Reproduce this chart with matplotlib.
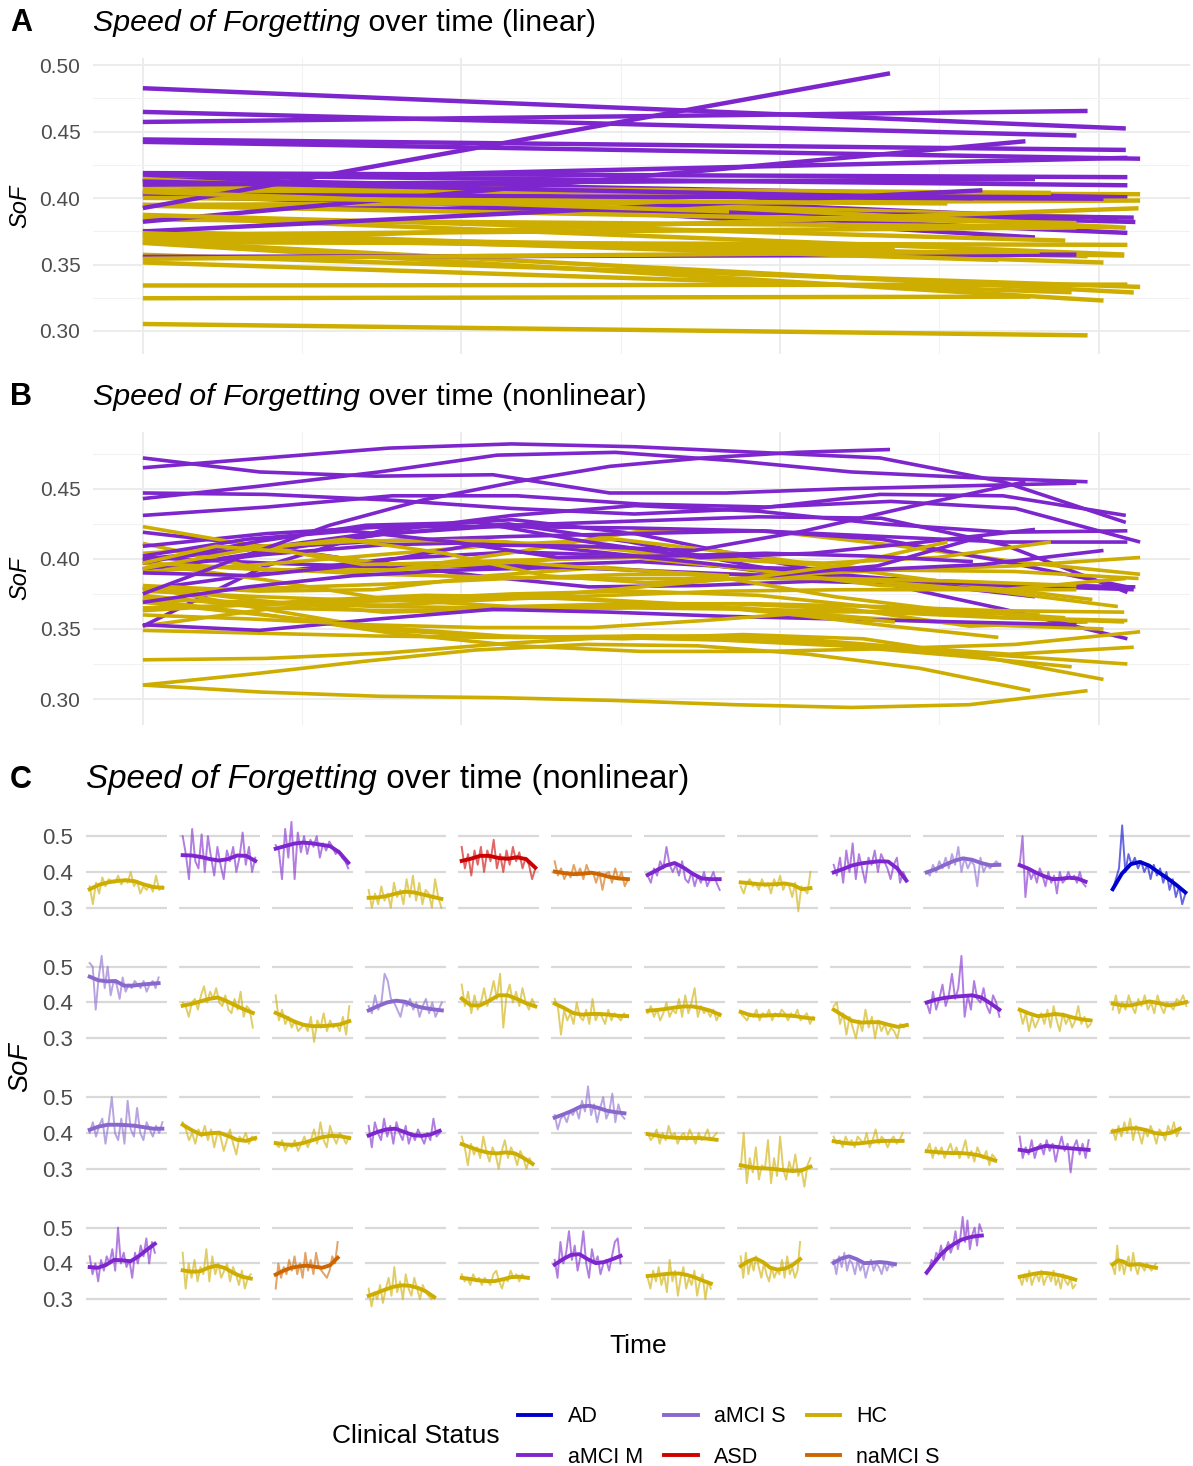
import numpy as np
import matplotlib
matplotlib.use("Agg")
import matplotlib.pyplot as plt
from matplotlib.lines import Line2D

plt.rcParams['font.family'] = ['Liberation Sans', 'DejaVu Sans']

# ---------------- data: 48 subjects, four rows of twelve ----------------
status_r1 = ["HC", "aMCI M", "aMCI M", "HC", "ASD", "naMCI S", "aMCI M", "HC", "aMCI M", "aMCI S", "aMCI M", "AD"]
status_r2 = ["aMCI S", "HC", "HC", "aMCI S", "HC", "HC", "HC", "HC", "HC", "aMCI M", "HC", "HC"]
status_r3 = ["aMCI S", "HC", "HC", "aMCI M", "HC", "aMCI S", "HC", "HC", "HC", "HC", "aMCI M", "HC"]
status_r4 = ["aMCI M", "HC", "naMCI S", "HC", "HC", "aMCI M", "HC", "HC", "aMCI S", "aMCI M", "HC", "HC"]

# length of follow-up per subject
tend_r1 = [6.18, 6.17, 6.17, 6.18, 6.26, 6.23, 6.12, 5.93, 6.18, 6.18, 5.60, 6.18]
tend_r2 = [5.86, 5.96, 6.26, 6.22, 6.26, 6.16, 6.12, 6.16, 6.22, 6.18, 6.03, 6.26]
tend_r3 = [6.18, 6.17, 6.25, 6.03, 6.03, 5.93, 5.86, 5.93, 5.86, 5.83, 5.86, 5.70]
tend_r4 = [5.54, 5.79, 5.27, 5.57, 5.63, 5.60, 5.37, 5.05, 5.21, 4.69, 4.72, 3.68]

# observed SoF per session (evenly spaced over follow-up)
raw_r1 = [
    [0.36, 0.31, 0.37, 0.34, 0.385, 0.36, 0.38, 0.375, 0.37, 0.39, 0.365, 0.38, 0.37, 0.40, 0.36, 0.375, 0.34, 0.36, 0.35, 0.365, 0.345, 0.39, 0.35, 0.36],
    [0.50, 0.45, 0.38, 0.52, 0.43, 0.41, 0.505, 0.40, 0.50, 0.44, 0.39, 0.47, 0.42, 0.38, 0.46, 0.43, 0.47, 0.40, 0.44, 0.51, 0.42, 0.47, 0.40, 0.44],
    [0.475, 0.46, 0.38, 0.52, 0.44, 0.54, 0.38, 0.51, 0.455, 0.50, 0.45, 0.49, 0.47, 0.50, 0.44, 0.48, 0.46, 0.485, 0.47, 0.45, 0.46, 0.44, 0.43, 0.41],
    [0.35, 0.30, 0.34, 0.31, 0.36, 0.32, 0.34, 0.30, 0.37, 0.33, 0.35, 0.31, 0.38, 0.33, 0.39, 0.32, 0.37, 0.31, 0.35, 0.34, 0.30, 0.38, 0.33, 0.30],
    [0.47, 0.41, 0.45, 0.39, 0.46, 0.42, 0.47, 0.40, 0.46, 0.43, 0.49, 0.41, 0.45, 0.40, 0.46, 0.42, 0.47, 0.43, 0.455, 0.41, 0.44, 0.42, 0.38, 0.41],
    [0.43, 0.39, 0.41, 0.38, 0.40, 0.385, 0.42, 0.39, 0.41, 0.38, 0.42, 0.395, 0.40, 0.37, 0.40, 0.35, 0.395, 0.40, 0.37, 0.41, 0.38, 0.40, 0.36, 0.38],
    [0.39, 0.37, 0.41, 0.39, 0.43, 0.41, 0.47, 0.42, 0.40, 0.42, 0.39, 0.43, 0.38, 0.37, 0.40, 0.36, 0.39, 0.37, 0.40, 0.36, 0.38, 0.40, 0.37, 0.35],
    [0.36, 0.34, 0.37, 0.38, 0.36, 0.37, 0.35, 0.38, 0.36, 0.37, 0.34, 0.38, 0.36, 0.39, 0.35, 0.37, 0.36, 0.33, 0.37, 0.29, 0.36, 0.35, 0.34, 0.40],
    [0.42, 0.39, 0.44, 0.37, 0.46, 0.40, 0.48, 0.38, 0.45, 0.41, 0.37, 0.44, 0.42, 0.46, 0.40, 0.45, 0.43, 0.41, 0.38, 0.42, 0.44, 0.37, 0.40, 0.38],
    [0.40, 0.39, 0.42, 0.40, 0.43, 0.41, 0.44, 0.41, 0.45, 0.42, 0.47, 0.40, 0.44, 0.41, 0.43, 0.42, 0.36, 0.44, 0.40, 0.42, 0.41, 0.42, 0.43, 0.42],
    [0.42, 0.50, 0.33, 0.41, 0.38, 0.40, 0.37, 0.41, 0.39, 0.36, 0.40, 0.37, 0.39, 0.34, 0.40, 0.37, 0.38, 0.40, 0.38, 0.39, 0.37, 0.40, 0.37, 0.36],
    [0.35, 0.38, 0.41, 0.53, 0.40, 0.45, 0.42, 0.44, 0.41, 0.43, 0.40, 0.42, 0.38, 0.42, 0.39, 0.41, 0.37, 0.40, 0.35, 0.38, 0.33, 0.36, 0.31, 0.34],
]
raw_r2 = [
    [0.51, 0.50, 0.38, 0.47, 0.53, 0.44, 0.50, 0.42, 0.46, 0.45, 0.41, 0.47, 0.43, 0.45, 0.44, 0.46, 0.45, 0.44, 0.46, 0.43, 0.45, 0.46, 0.44, 0.47],
    [0.40, 0.39, 0.36, 0.40, 0.41, 0.38, 0.42, 0.445, 0.40, 0.43, 0.41, 0.44, 0.40, 0.39, 0.42, 0.38, 0.37, 0.41, 0.38, 0.43, 0.36, 0.39, 0.38, 0.33],
    [0.42, 0.35, 0.38, 0.34, 0.36, 0.33, 0.35, 0.32, 0.33, 0.34, 0.32, 0.36, 0.29, 0.35, 0.33, 0.37, 0.32, 0.35, 0.33, 0.34, 0.32, 0.36, 0.31, 0.39],
    [0.39, 0.37, 0.42, 0.38, 0.40, 0.48, 0.46, 0.41, 0.40, 0.38, 0.36, 0.40, 0.39, 0.41, 0.38, 0.40, 0.36, 0.39, 0.41, 0.37, 0.40, 0.36, 0.38, 0.40],
    [0.45, 0.39, 0.43, 0.37, 0.42, 0.38, 0.40, 0.44, 0.39, 0.42, 0.46, 0.41, 0.48, 0.33, 0.42, 0.45, 0.40, 0.43, 0.39, 0.44, 0.40, 0.38, 0.41, 0.39],
    [0.41, 0.39, 0.31, 0.38, 0.35, 0.37, 0.34, 0.40, 0.36, 0.35, 0.38, 0.34, 0.41, 0.35, 0.37, 0.36, 0.34, 0.38, 0.35, 0.37, 0.36, 0.35, 0.37, 0.36],
    [0.37, 0.39, 0.36, 0.38, 0.35, 0.37, 0.40, 0.36, 0.38, 0.37, 0.41, 0.36, 0.42, 0.37, 0.40, 0.44, 0.36, 0.39, 0.37, 0.38, 0.36, 0.38, 0.35, 0.37],
    [0.37, 0.36, 0.35, 0.37, 0.36, 0.38, 0.35, 0.37, 0.36, 0.38, 0.35, 0.37, 0.36, 0.38, 0.37, 0.35, 0.37, 0.36, 0.38, 0.35, 0.36, 0.37, 0.34, 0.36],
    [0.39, 0.40, 0.34, 0.37, 0.31, 0.36, 0.33, 0.30, 0.35, 0.32, 0.38, 0.33, 0.36, 0.30, 0.35, 0.32, 0.34, 0.31, 0.33, 0.32, 0.30, 0.34, 0.33, 0.34],
    [0.40, 0.37, 0.43, 0.38, 0.41, 0.45, 0.39, 0.42, 0.48, 0.41, 0.44, 0.53, 0.36, 0.42, 0.38, 0.46, 0.41, 0.40, 0.44, 0.39, 0.37, 0.42, 0.40, 0.36],
    [0.38, 0.34, 0.37, 0.32, 0.36, 0.33, 0.35, 0.37, 0.34, 0.38, 0.33, 0.39, 0.35, 0.32, 0.37, 0.34, 0.36, 0.33, 0.35, 0.39, 0.34, 0.36, 0.33, 0.34],
    [0.38, 0.42, 0.37, 0.40, 0.38, 0.42, 0.39, 0.37, 0.41, 0.39, 0.42, 0.38, 0.40, 0.37, 0.42, 0.39, 0.37, 0.40, 0.39, 0.38, 0.41, 0.40, 0.42, 0.39],
]
raw_r3 = [
    [0.40, 0.43, 0.39, 0.42, 0.44, 0.37, 0.43, 0.50, 0.40, 0.38, 0.44, 0.37, 0.49, 0.41, 0.39, 0.47, 0.40, 0.38, 0.43, 0.41, 0.39, 0.42, 0.40, 0.43],
    [0.43, 0.41, 0.38, 0.40, 0.37, 0.41, 0.39, 0.42, 0.38, 0.41, 0.36, 0.40, 0.39, 0.35, 0.38, 0.41, 0.37, 0.34, 0.39, 0.38, 0.40, 0.37, 0.39, 0.38],
    [0.37, 0.36, 0.38, 0.35, 0.37, 0.36, 0.38, 0.35, 0.37, 0.39, 0.36, 0.38, 0.41, 0.37, 0.43, 0.38, 0.36, 0.42, 0.39, 0.37, 0.40, 0.39, 0.37, 0.39],
    [0.42, 0.36, 0.43, 0.40, 0.38, 0.44, 0.39, 0.42, 0.37, 0.43, 0.40, 0.38, 0.42, 0.37, 0.40, 0.38, 0.41, 0.39, 0.37, 0.40, 0.38, 0.44, 0.39, 0.40],
    [0.39, 0.36, 0.31, 0.37, 0.34, 0.36, 0.33, 0.39, 0.35, 0.32, 0.36, 0.34, 0.30, 0.35, 0.38, 0.33, 0.36, 0.34, 0.31, 0.35, 0.33, 0.30, 0.33, 0.31],
    [0.45, 0.41, 0.44, 0.45, 0.43, 0.46, 0.45, 0.47, 0.44, 0.49, 0.46, 0.53, 0.45, 0.48, 0.43, 0.47, 0.50, 0.44, 0.46, 0.51, 0.43, 0.48, 0.45, 0.44],
    [0.40, 0.38, 0.39, 0.41, 0.37, 0.40, 0.38, 0.42, 0.39, 0.40, 0.37, 0.39, 0.40, 0.38, 0.41, 0.39, 0.37, 0.40, 0.38, 0.39, 0.41, 0.38, 0.39, 0.40],
    [0.30, 0.40, 0.26, 0.33, 0.29, 0.36, 0.27, 0.31, 0.30, 0.38, 0.26, 0.33, 0.28, 0.39, 0.30, 0.27, 0.32, 0.29, 0.34, 0.28, 0.30, 0.25, 0.31, 0.33],
    [0.39, 0.37, 0.38, 0.36, 0.39, 0.37, 0.38, 0.36, 0.39, 0.38, 0.37, 0.40, 0.36, 0.38, 0.41, 0.37, 0.39, 0.38, 0.36, 0.38, 0.39, 0.37, 0.38, 0.40],
    [0.35, 0.37, 0.33, 0.36, 0.34, 0.36, 0.33, 0.35, 0.37, 0.34, 0.36, 0.33, 0.35, 0.38, 0.33, 0.35, 0.32, 0.36, 0.34, 0.33, 0.35, 0.31, 0.34, 0.33],
    [0.39, 0.33, 0.36, 0.34, 0.38, 0.33, 0.36, 0.37, 0.34, 0.38, 0.35, 0.37, 0.32, 0.36, 0.39, 0.35, 0.37, 0.29, 0.36, 0.38, 0.34, 0.37, 0.33, 0.38],
    [0.41, 0.38, 0.42, 0.39, 0.43, 0.40, 0.44, 0.38, 0.42, 0.40, 0.37, 0.41, 0.39, 0.42, 0.40, 0.37, 0.41, 0.40, 0.38, 0.42, 0.40, 0.43, 0.39, 0.41],
]
raw_r4 = [
    [0.42, 0.37, 0.40, 0.35, 0.41, 0.38, 0.42, 0.40, 0.44, 0.38, 0.50, 0.40, 0.43, 0.39, 0.41, 0.36, 0.43, 0.40, 0.45, 0.42, 0.47, 0.40, 0.46, 0.43],
    [0.43, 0.33, 0.40, 0.36, 0.41, 0.35, 0.39, 0.37, 0.44, 0.35, 0.42, 0.37, 0.40, 0.36, 0.38, 0.40, 0.35, 0.39, 0.37, 0.34, 0.38, 0.33, 0.36, 0.37],
    [0.33, 0.40, 0.36, 0.39, 0.37, 0.41, 0.38, 0.42, 0.37, 0.40, 0.36, 0.43, 0.38, 0.41, 0.37, 0.43, 0.39, 0.38, 0.37, 0.36, 0.38, 0.42, 0.40, 0.46],
    [0.33, 0.28, 0.32, 0.30, 0.34, 0.29, 0.33, 0.36, 0.31, 0.39, 0.32, 0.35, 0.30, 0.37, 0.33, 0.31, 0.36, 0.33, 0.30, 0.34, 0.32, 0.31, 0.30, 0.31],
    [0.37, 0.35, 0.36, 0.34, 0.37, 0.35, 0.36, 0.34, 0.36, 0.35, 0.34, 0.37, 0.38, 0.35, 0.33, 0.36, 0.35, 0.38, 0.36, 0.37, 0.35, 0.37, 0.36, 0.36],
    [0.41, 0.36, 0.46, 0.40, 0.43, 0.49, 0.41, 0.45, 0.38, 0.42, 0.49, 0.40, 0.36, 0.44, 0.40, 0.42, 0.37, 0.40, 0.41, 0.38, 0.42, 0.46, 0.47, 0.40],
    [0.36, 0.33, 0.38, 0.35, 0.39, 0.34, 0.37, 0.32, 0.41, 0.35, 0.38, 0.31, 0.36, 0.39, 0.33, 0.36, 0.34, 0.38, 0.31, 0.35, 0.37, 0.30, 0.35, 0.33],
    [0.42, 0.36, 0.43, 0.37, 0.41, 0.38, 0.42, 0.39, 0.36, 0.40, 0.37, 0.35, 0.39, 0.36, 0.38, 0.37, 0.41, 0.36, 0.42, 0.37, 0.39, 0.36, 0.38, 0.46],
    [0.41, 0.37, 0.42, 0.39, 0.43, 0.38, 0.41, 0.40, 0.37, 0.41, 0.38, 0.40, 0.36, 0.39, 0.41, 0.38, 0.40, 0.39, 0.37, 0.40, 0.38, 0.40, 0.39, 0.40],
    [0.37, 0.38, 0.41, 0.40, 0.43, 0.42, 0.45, 0.41, 0.44, 0.46, 0.43, 0.45, 0.49, 0.44, 0.47, 0.53, 0.46, 0.52, 0.44, 0.48, 0.50, 0.45, 0.51, 0.49],
    [0.36, 0.34, 0.37, 0.35, 0.38, 0.34, 0.36, 0.37, 0.35, 0.38, 0.34, 0.36, 0.37, 0.35, 0.38, 0.34, 0.36, 0.33, 0.37, 0.35, 0.34, 0.36, 0.33, 0.34],
    [0.39, 0.37, 0.45, 0.38, 0.41, 0.37, 0.40, 0.42, 0.38, 0.43, 0.39, 0.37, 0.40, 0.39, 0.38, 0.40, 0.39, 0.38, 0.39, 0.40],
]

# fitted nonlinear trend per subject, nine equally spaced points over follow-up
smooth_r1 = [
    [0.352, 0.364, 0.371, 0.375, 0.377, 0.374, 0.365, 0.358, 0.356],
    [0.447, 0.446, 0.442, 0.436, 0.432, 0.436, 0.446, 0.445, 0.431],
    [0.465, 0.472, 0.479, 0.482, 0.480, 0.476, 0.472, 0.455, 0.426],
    [0.328, 0.329, 0.333, 0.340, 0.345, 0.343, 0.337, 0.331, 0.325],
    [0.431, 0.437, 0.445, 0.445, 0.439, 0.437, 0.441, 0.436, 0.412],
    [0.401, 0.397, 0.394, 0.395, 0.398, 0.393, 0.386, 0.382, 0.380],
    [0.392, 0.405, 0.418, 0.425, 0.412, 0.395, 0.382, 0.380, 0.380],
    [0.371, 0.369, 0.366, 0.365, 0.366, 0.368, 0.364, 0.352, 0.355],
    [0.399, 0.408, 0.418, 0.424, 0.427, 0.430, 0.429, 0.410, 0.376],
    [0.399, 0.408, 0.420, 0.431, 0.438, 0.434, 0.425, 0.419, 0.420],
    [0.419, 0.410, 0.398, 0.388, 0.380, 0.381, 0.384, 0.382, 0.373],
    [0.352, 0.395, 0.422, 0.428, 0.418, 0.400, 0.383, 0.364, 0.343],
]
smooth_r2 = [
    [0.472, 0.462, 0.459, 0.460, 0.447, 0.447, 0.450, 0.452, 0.454],
    [0.391, 0.396, 0.403, 0.410, 0.414, 0.404, 0.392, 0.381, 0.371],
    [0.371, 0.360, 0.347, 0.338, 0.334, 0.334, 0.336, 0.339, 0.348],
    [0.378, 0.390, 0.400, 0.405, 0.402, 0.391, 0.385, 0.381, 0.378],
    [0.411, 0.392, 0.392, 0.405, 0.420, 0.420, 0.410, 0.398, 0.389],
    [0.397, 0.385, 0.371, 0.366, 0.368, 0.368, 0.366, 0.363, 0.362],
    [0.377, 0.379, 0.382, 0.386, 0.389, 0.389, 0.384, 0.377, 0.366],
    [0.374, 0.365, 0.363, 0.364, 0.365, 0.364, 0.362, 0.358, 0.355],
    [0.380, 0.364, 0.349, 0.344, 0.345, 0.345, 0.338, 0.332, 0.337],
    [0.400, 0.408, 0.413, 0.416, 0.418, 0.420, 0.414, 0.398, 0.380],
    [0.380, 0.370, 0.362, 0.364, 0.368, 0.365, 0.358, 0.353, 0.350],
    [0.397, 0.392, 0.392, 0.398, 0.403, 0.398, 0.392, 0.395, 0.401],
]
smooth_r3 = [
    [0.409, 0.418, 0.423, 0.423, 0.422, 0.420, 0.416, 0.412, 0.412],
    [0.423, 0.408, 0.396, 0.399, 0.401, 0.392, 0.381, 0.378, 0.386],
    [0.372, 0.368, 0.367, 0.372, 0.380, 0.388, 0.392, 0.391, 0.386],
    [0.393, 0.403, 0.410, 0.412, 0.403, 0.394, 0.392, 0.396, 0.406],
    [0.369, 0.360, 0.351, 0.345, 0.343, 0.346, 0.343, 0.330, 0.314],
    [0.443, 0.452, 0.462, 0.474, 0.476, 0.470, 0.462, 0.458, 0.455],
    [0.397, 0.393, 0.389, 0.387, 0.386, 0.386, 0.386, 0.384, 0.381],
    [0.310, 0.305, 0.302, 0.301, 0.299, 0.296, 0.294, 0.296, 0.306],
    [0.377, 0.373, 0.370, 0.371, 0.374, 0.377, 0.378, 0.378, 0.378],
    [0.349, 0.347, 0.345, 0.344, 0.344, 0.342, 0.338, 0.331, 0.323],
    [0.353, 0.349, 0.357, 0.364, 0.362, 0.359, 0.357, 0.355, 0.353],
    [0.404, 0.409, 0.413, 0.413, 0.408, 0.400, 0.397, 0.401, 0.412],
]
smooth_r4 = [
    [0.390, 0.388, 0.396, 0.410, 0.409, 0.406, 0.420, 0.438, 0.455],
    [0.381, 0.377, 0.378, 0.388, 0.394, 0.387, 0.373, 0.363, 0.358],
    [0.369, 0.380, 0.388, 0.392, 0.394, 0.391, 0.388, 0.395, 0.416],
    [0.310, 0.318, 0.327, 0.335, 0.339, 0.338, 0.332, 0.322, 0.306],
    [0.360, 0.357, 0.353, 0.351, 0.351, 0.356, 0.362, 0.363, 0.360],
    [0.397, 0.412, 0.424, 0.426, 0.412, 0.401, 0.404, 0.412, 0.421],
    [0.365, 0.367, 0.370, 0.372, 0.372, 0.368, 0.361, 0.352, 0.344],
    [0.393, 0.406, 0.414, 0.404, 0.388, 0.383, 0.386, 0.396, 0.412],
    [0.402, 0.414, 0.420, 0.412, 0.401, 0.402, 0.404, 0.402, 0.398],
    [0.375, 0.400, 0.424, 0.442, 0.455, 0.466, 0.472, 0.476, 0.478],
    [0.363, 0.367, 0.371, 0.374, 0.373, 0.370, 0.366, 0.361, 0.355],
    [0.397, 0.409, 0.405, 0.396, 0.397, 0.398, 0.394, 0.391, 0.388],
]

legend_order = ["AD", "aMCI M", "aMCI S", "ASD", "HC", "naMCI S"]

# ---------------- styling ----------------
status_colors = {"AD": "#0000CD", "aMCI M": "#7D26CD", "aMCI S": "#8968CD",
                 "ASD": "#CD0000", "HC": "#CDAD00", "naMCI S": "#CD6600"}
group_colors = {"patient": "#7D26CD", "HC": "#CDAD00"}
tick_color = "#4D4D4D"

statuses = status_r1 + status_r2 + status_r3 + status_r4
tends = tend_r1 + tend_r2 + tend_r3 + tend_r4
raws = raw_r1 + raw_r2 + raw_r3 + raw_r4
smooths = smooth_r1 + smooth_r2 + smooth_r3 + smooth_r4

W, H = 1193, 1466
fig = plt.figure(figsize=(W / 100, H / 100), dpi=100)


def fig_rect(left, top, right, bottom):
    return [left / W, 1 - bottom / H, (right - left) / W, (bottom - top) / H]


t_max = max(tends)
xlim = (-0.05 * t_max, 1.05 * t_max)


def style_big(ax, ylim, yticks, yminor):
    ax.set_xlim(*xlim)
    ax.set_ylim(*ylim)
    for s in ax.spines.values():
        s.set_visible(False)
    ax.set_xticks([0, 2, 4, 6])
    ax.set_xticks([1, 3, 5], minor=True)
    ax.set_xticklabels([])
    ax.set_yticks(yticks)
    ax.set_yticks(yminor, minor=True)
    ax.set_yticklabels([f"{v:.2f}" for v in yticks])
    ax.tick_params(which="both", length=0, labelsize=15, labelcolor=tick_color, pad=9)
    ax.grid(which="major", color="#EBEBEB", linewidth=1.3)
    ax.grid(which="minor", color="#F2F2F2", linewidth=0.8)
    ax.set_axisbelow(True)


def colour_ab(st):
    return group_colors["HC"] if st == "HC" else group_colors["patient"]


# Panel A: linear trend per subject (least squares over the fitted trajectory)
axA = fig.add_axes(fig_rect(93, 58, 1190, 354))
style_big(axA, (0.2827, 0.5053), [0.30, 0.35, 0.40, 0.45, 0.50],
          [0.325, 0.375, 0.425, 0.475])
for st, te, sm in zip(statuses, tends, smooths):
    t = np.linspace(0, te, len(sm))
    slope, icpt = np.polyfit(t, sm, 1)
    ends = np.array([0.0, te])
    axA.plot(ends, icpt + slope * ends, color=colour_ab(st), lw=3.2,
             solid_capstyle="butt")

# Panel B: nonlinear trend per subject
axB = fig.add_axes(fig_rect(93, 432, 1190, 725))
style_big(axB, (0.2815, 0.4905), [0.30, 0.35, 0.40, 0.45],
          [0.325, 0.375, 0.425, 0.475])
for st, te, sm in zip(statuses, tends, smooths):
    t = np.linspace(0, te, len(sm))
    axB.plot(t, sm, color=colour_ab(st), lw=2.6, solid_capstyle="butt",
             solid_joinstyle="round")

for ax_ in (axA, axB):
    mid = (ax_.get_position().y0 + ax_.get_position().y1) / 2
    fig.text(20 / W, mid, "SoF", rotation=90, style="italic", fontsize=17,
             ha="center", va="center")

# Panel C: per-subject facets
ylimC = (0.227, 0.559)
for i, (st, te, rv, sm) in enumerate(zip(statuses, tends, raws, smooths)):
    r, c = divmod(i, 12)
    left = 86 + c * 93
    top = 815 + r * 130.5
    ax = fig.add_axes(fig_rect(left, top, left + 81, top + 119))
    ax.set_xlim(*xlim)
    ax.set_ylim(*ylimC)
    for s in ax.spines.values():
        s.set_visible(False)
    ax.set_xticks([])
    ax.set_yticks([0.3, 0.4, 0.5])
    ax.grid(axis="y", color="#D9D9D9", linewidth=1.6)
    ax.set_axisbelow(True)
    if c == 0:
        ax.set_yticklabels(["0.3", "0.4", "0.5"])
        ax.tick_params(axis="y", length=0, labelsize=16, labelcolor=tick_color, pad=9.5)
    else:
        ax.tick_params(axis="y", length=0, labelleft=False)
    col = status_colors[st]
    t_raw = np.linspace(0, te, len(rv))
    ax.plot(t_raw, rv, color=col, lw=1.4, alpha=0.6)
    t_sm = np.linspace(0, te, len(sm))
    ax.plot(t_sm, sm, color=col, lw=2.8, solid_joinstyle="round")

fig.text(20 / W, 1 - 1067 / H, "SoF", rotation=90, style="italic", fontsize=19.5,
         ha="center", va="center")
fig.text(638 / W, 1 - 1346 / H, "Time", fontsize=19, ha="center", va="center")

# Titles
titles = [(31, "A", "linear", 21.9, 93), (405, "B", "nonlinear", 21.9, 93),
          (788, "C", "nonlinear", 23.9, 86)]
parts = []
for base, letter, kind, size, x0 in titles:
    fig.text(10 / W, 1 - base / H, letter, fontsize=22, fontweight="bold",
             va="baseline", ha="left")
    t1 = fig.text(x0 / W, 1 - base / H, "Speed of Forgetting", fontsize=size,
                  style="italic", va="baseline", ha="left")
    parts.append((t1, base, kind, size))
fig.canvas.draw()
renderer = fig.canvas.get_renderer()
for t1, base, kind, size in parts:
    bb = t1.get_window_extent(renderer)
    fig.text(bb.x1 / W, 1 - base / H, f" over time ({kind})", fontsize=size,
             va="baseline", ha="left")

# Legend
handles = [Line2D([], [], color=status_colors[k], lw=2.8) for k in legend_order]
fig.legend(handles, legend_order, ncol=3, loc="center left",
           bbox_to_anchor=(518 / W, 1 - 1437 / H), frameon=False, fontsize=15.5,
           handlelength=1.55, handletextpad=0.75, columnspacing=1.0,
           labelspacing=0.9, borderpad=0, borderaxespad=0)
fig.text(500 / W, 1 - 1436 / H, "Clinical Status", fontsize=19, ha="right",
         va="center")

fig.savefig("out.png", dpi=100)
